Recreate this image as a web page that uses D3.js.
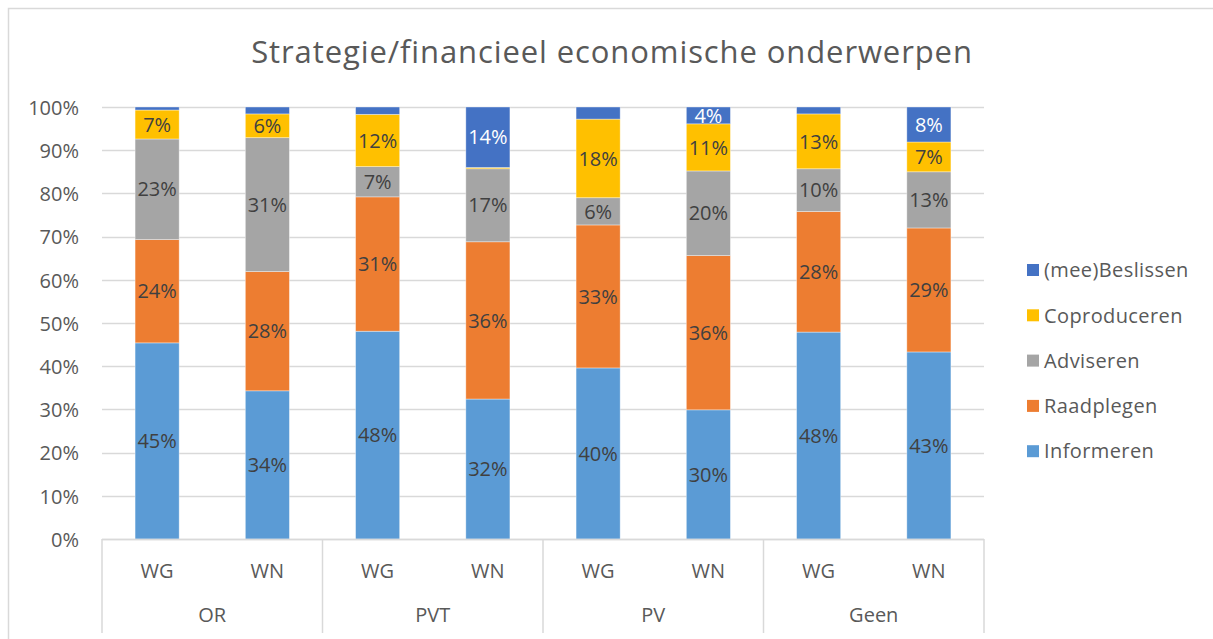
<!DOCTYPE html>
<html>
<head>
<meta charset="utf-8">
<script src="https://cdn.jsdelivr.net/npm/d3@7"></script>
<style>
  body { margin: 0; background: #fff; }
  svg { display: block; font-family: "Open Sans", sans-serif; }
</style>
</head>
<body>
<script>
// groups on the category axis, each has a WG and a WN bar
var groups = ["OR", "PVT", "PV", "Geen"];
var subs = ["WG", "WN"];

// series, bottom to top of the stack
var series = ["Informeren", "Raadplegen", "Adviseren", "Coproduceren", "(mee)Beslissen"];
var colors = ["#5b9bd5", "#ed7d31", "#a5a5a5", "#ffc000", "#4472c4"];

// percentages per bar, order: OR WG, OR WN, PVT WG, PVT WN, PV WG, PV WN, Geen WG, Geen WN
var informeren   = [45.4, 34.3, 48.1, 32.4, 39.6, 29.9, 47.9, 43.3];
var raadplegen   = [23.9, 27.6, 31.1, 36.4, 33.1, 35.7, 27.9, 28.7];
var adviseren    = [23.3, 31.0, 7.0, 16.9, 6.3, 19.6, 9.9, 13.0];
var coproduceren = [6.7, 5.5, 12.1, 0.3, 18.2, 10.9, 12.7, 6.9];
var beslissen    = [0.7, 1.6, 1.7, 14.0, 2.8, 3.9, 1.6, 8.1];

var yTicks = [0, 10, 20, 30, 40, 50, 60, 70, 80, 90, 100];

var W = 1213, H = 639;
var plotLeft = 102, plotRight = 984, plotTop = 107, plotBottom = 539;

var bars = [];
groups.forEach(function (g) {
    subs.forEach(function (s) { bars.push(g + "|" + s); });
});

var rows = bars.map(function (key, i) {
    return {
        key: key,
        "Informeren": informeren[i],
        "Raadplegen": raadplegen[i],
        "Adviseren": adviseren[i],
        "Coproduceren": coproduceren[i],
        "(mee)Beslissen": beslissen[i]
    };
});

var stacked = d3.stack().keys(series)(rows);

var x = d3.scaleBand()
    .domain(bars)
    .range([plotLeft, plotRight])
    .paddingInner(0.6)
    .paddingOuter(0.3);

var y = d3.scaleLinear()
    .domain([0, 100])
    .range([plotBottom, plotTop]);

var color = d3.scaleOrdinal().domain(series).range(colors);

var svg = d3.select("body").append("svg")
    .attr("width", W)
    .attr("height", H);

// chart frame (only top and left edges are inside the picture)
svg.append("path")
    .attr("d", "M8.5," + (H + 5) + "V8.5H" + (W + 5))
    .attr("fill", "none")
    .attr("stroke", "#d9d9d9")
    .attr("stroke-width", 1.5);

svg.append("text")
    .attr("x", 612)
    .attr("y", 63)
    .attr("text-anchor", "middle")
    .attr("fill", "#595959")
    .style("font-size", "31px")
    .style("letter-spacing", "0.9px")
    .text("Strategie/financieel economische onderwerpen");

// gridlines
svg.append("g")
    .selectAll("line")
    .data(yTicks)
    .enter().append("line")
    .attr("x1", plotLeft)
    .attr("x2", plotRight)
    .attr("y1", function (d) { return Math.round(y(d)) + 0.5; })
    .attr("y2", function (d) { return Math.round(y(d)) + 0.5; })
    .attr("stroke", "#d9d9d9")
    .attr("stroke-width", 1.5);

// y axis labels
var yAxis = d3.axisLeft(y)
    .tickValues(yTicks)
    .tickSize(0)
    .tickPadding(0)
    .tickFormat(function (d) { return d + "%"; });

var gY = svg.append("g")
    .attr("transform", "translate(79,0)")
    .call(yAxis);
gY.select(".domain").remove();
gY.selectAll("text")
    .attr("fill", "#595959")
    .attr("dy", "0.36em")
    .style("font-size", "20px")
    .style("font-family", "'Open Sans', sans-serif");

// stacked bars
var layer = svg.append("g")
    .selectAll("g")
    .data(stacked)
    .enter().append("g")
    .attr("fill", function (d) { return color(d.key); });

layer.selectAll("rect")
    .data(function (d) { return d; })
    .enter().append("rect")
    .attr("x", function (d) { return x(d.data.key); })
    .attr("width", x.bandwidth())
    .attr("y", function (d) { return y(d[1]); })
    .attr("height", function (d) { return y(d[0]) - y(d[1]); })
    .attr("stroke", "#ffffff")
    .attr("stroke-opacity", 0.5)
    .attr("stroke-width", 0.75);

// data labels (small segments have none)
layer.each(function (s) {
    d3.select(this).selectAll("text")
        .data(s.filter(function (d) { return d[1] - d[0] >= 3.5; }))
        .enter().append("text")
        .attr("x", function (d) { return x(d.data.key) + x.bandwidth() / 2; })
        .attr("y", function (d) { return y((d[0] + d[1]) / 2); })
        .attr("dy", "0.36em")
        .attr("text-anchor", "middle")
        .attr("fill", s.key === "(mee)Beslissen" ? "#ffffff" : "#404040")
        .style("font-size", "20px")
        .text(function (d) { return Math.round(d[1] - d[0]) + "%"; });
});

// category axis: baseline, separators and two label rows
var axisG = svg.append("g").attr("stroke", "#d9d9d9").attr("stroke-width", 1.5);
axisG.append("line")
    .attr("x1", plotLeft).attr("x2", plotRight)
    .attr("y1", plotBottom + 0.5).attr("y2", plotBottom + 0.5);

var groupW = (plotRight - plotLeft) / groups.length;
d3.range(groups.length + 1).forEach(function (i) {
    axisG.append("line")
        .attr("x1", plotLeft + i * groupW).attr("x2", plotLeft + i * groupW)
        .attr("y1", plotBottom).attr("y2", 633);
});

svg.append("g")
    .selectAll("text")
    .data(bars)
    .enter().append("text")
    .attr("x", function (d) { return x(d) + x.bandwidth() / 2; })
    .attr("y", 578)
    .attr("text-anchor", "middle")
    .attr("fill", "#595959")
    .style("font-size", "20px")
    .text(function (d) { return d.split("|")[1]; });

svg.append("g")
    .selectAll("text")
    .data(groups)
    .enter().append("text")
    .attr("x", function (d, i) { return plotLeft + (i + 0.5) * groupW; })
    .attr("y", 622)
    .attr("text-anchor", "middle")
    .attr("fill", "#595959")
    .style("font-size", "20px")
    .text(function (d) { return d; });

// legend, top item is the top of the stack
var legendItems = series.slice().reverse();
var legend = svg.append("g")
    .selectAll("g")
    .data(legendItems)
    .enter().append("g")
    .attr("transform", function (d, i) { return "translate(1027," + (270 + i * 45.3) + ")"; });

legend.append("rect")
    .attr("x", 0)
    .attr("y", -6)
    .attr("width", 12)
    .attr("height", 12)
    .attr("fill", function (d) { return color(d); });

legend.append("text")
    .attr("x", 17)
    .attr("y", 0)
    .attr("dy", "0.36em")
    .attr("fill", "#595959")
    .style("font-size", "20px")
    .style("letter-spacing", "0.4px")
    .text(function (d) { return d; });
</script>
</body>
</html>
